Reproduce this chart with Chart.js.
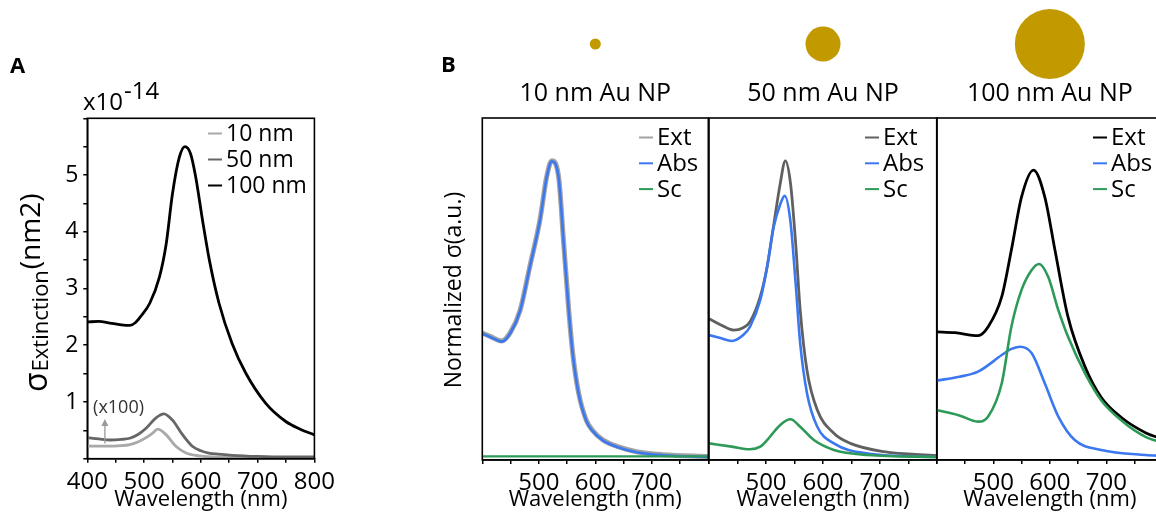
<!DOCTYPE html>
<html><head><meta charset="utf-8">
<script src="https://cdn.jsdelivr.net/npm/chart.js@4.4.1/dist/chart.umd.min.js"></script>
<style>
html,body{margin:0;padding:0;background:#fff;width:1156px;height:514px;overflow:hidden;position:relative;}
canvas{position:absolute;top:0;}
</style></head><body>
<canvas id="cA" width="340" height="514" style="left:0px"></canvas>
<canvas id="cB1" width="290" height="514" style="left:430px"></canvas>
<canvas id="cB2" width="250" height="514" style="left:700px"></canvas>
<canvas id="cB3" width="260" height="514" style="left:925px"></canvas>
<script>
// ---------- Panel A data (sigma extinction, x1e-14) ----------
const wlA10  = [400,430,460,475,490,505,515,524,539,556,574,597,620,660,700,800];
const sigA10 = [0.22,0.22,0.23,0.25,0.30,0.38,0.45,0.52,0.42,0.22,0.10,0.05,0.03,0.02,0.02,0.02];
const wlA50  = [400,420,440,460,475,490,504,521,535,550,568,585,600,614,630,655,700,750,800];
const sigA50 = [0.37,0.35,0.33,0.34,0.36,0.43,0.54,0.72,0.79,0.68,0.42,0.22,0.14,0.10,0.08,0.06,0.04,0.03,0.03];
const wlA100  = [400,420,440,460,475,485,495,510,527,539,550,562,572,582,591,603,615,632,655,679,714,749,775,800];
const sigA100 = [2.41,2.42,2.39,2.36,2.35,2.40,2.52,2.74,3.20,3.79,4.67,5.31,5.50,5.37,4.96,4.20,3.50,2.74,2.03,1.51,0.98,0.66,0.52,0.42];
const labelsA = ['10 nm','50 nm','100 nm'];
const xTicksA = [400,500,600,700,800];
const yTicksA = [1,2,3,4,5];

// ---------- Panel B data (normalized) ----------
const wlB10ext  = [400,415,434,450,467,484,502,514,523,535,544,553,560,570,584,595,614,640,673,720,800];
const nB10ext   = [0.427,0.415,0.40,0.43,0.504,0.65,0.807,0.953,1.006,0.953,0.73,0.504,0.36,0.23,0.134,0.10,0.067,0.045,0.028,0.018,0.012];
const wlB10abs  = [400,415,434,450,467,484,502,514,523,535,544,553,560,570,584,595,614,640,673,720,800];
const nB10abs   = [0.425,0.413,0.398,0.428,0.502,0.648,0.805,0.951,1.004,0.951,0.728,0.502,0.358,0.228,0.132,0.098,0.065,0.043,0.026,0.016,0.010];
const wlB10sc   = [400,500,600,700,800];
const nB10sc    = [0.012,0.012,0.012,0.012,0.012];

const wlB50ext  = [400,420,443,460,472,490,502,513,525,534,543,552,560,572,590,619,648,707,800];
const nB50ext   = [0.475,0.455,0.437,0.445,0.465,0.55,0.65,0.784,0.93,1.006,0.93,0.729,0.504,0.30,0.168,0.09,0.056,0.028,0.015];
const wlB50abs  = [400,420,440,460,472,490,502,513,525,533,543,552,560,572,590,619,678,800];
const nB50abs   = [0.42,0.41,0.40,0.42,0.448,0.538,0.65,0.78,0.86,0.888,0.80,0.594,0.392,0.224,0.112,0.056,0.022,0.01];
const wlB50sc   = [400,440,472,490,502,525,543,560,584,619,678,800];
const nB50sc    = [0.056,0.045,0.036,0.045,0.067,0.118,0.137,0.112,0.067,0.034,0.017,0.01];

const wlB100ext = [400,432,473,491,515,532,550,571,591,609,632,662,691,727,769,800];
const nB100ext  = [0.431,0.428,0.418,0.448,0.549,0.706,0.885,0.975,0.885,0.706,0.482,0.314,0.21,0.142,0.092,0.07];
const wlB100abs = [400,440,473,515,530,547,568,591,615,644,691,769,800];
const nB100abs  = [0.267,0.28,0.297,0.353,0.372,0.381,0.359,0.258,0.146,0.067,0.034,0.017,0.014];
const wlB100sc  = [400,440,473,491,515,532,550,568,581,597,615,632,662,691,727,769,800];
const nB100sc   = [0.168,0.15,0.129,0.146,0.258,0.448,0.572,0.639,0.659,0.616,0.504,0.415,0.292,0.20,0.132,0.078,0.058];

const labelsB = ['Ext','Abs','Sc'];
const titlesB = ['10 nm Au NP','50 nm Au NP','100 nm Au NP'];
const xTicksB = [500,600,700];

// ---------- helpers ----------
const FONT = "'Open Sans', sans-serif";
Chart.defaults.font.family = FONT;
Chart.defaults.color = '#000';
const pts = (xs, ys) => xs.map((x, i) => ({x, y: ys[i]}));

function line(label, xs, ys, color, width, order) {
  return {label, data: pts(xs, ys), borderColor: color, backgroundColor: color,
    borderWidth: width, pointRadius: 0, fill: false, cubicInterpolationMode: 'monotone', order};
}

const decoPlugin = {
  id: 'deco',
  afterDraw(chart, args, o) {
    const ctx = chart.ctx, a = chart.chartArea;
    ctx.save();
    ctx.strokeStyle = '#000'; ctx.lineWidth = 1.6;
    ctx.strokeRect(a.left, a.top, a.right - a.left, a.bottom - a.top);
    ctx.restore();
    ctx.save();
    ctx.translate(-(o.ox || 0), 0);
    if (o.legend) {
      const L = o.legend;
      ctx.font = L.size + 'px ' + FONT;
      ctx.textBaseline = 'middle';
      ctx.textAlign = 'left';
      chart.data.datasets.forEach((ds, i) => {
        const y = L.y + i * L.rowH;
        ctx.strokeStyle = ds.borderColor; ctx.lineWidth = 2;
        ctx.beginPath(); ctx.moveTo(L.x, y); ctx.lineTo(L.x + L.len, y); ctx.stroke();
        ctx.fillStyle = '#000'; ctx.fillText(ds.label, L.x + L.len + 4, y + 1);
      });
    }
    if (o.extra) o.extra(chart, ctx, o.ox || 0);
    ctx.restore();
  }
};
Chart.register(decoPlugin);

function xAxis(labelSet, h) {
  return {
    type: 'linear', min: 400, max: 800,
    ticks: {stepSize: 50, autoSkip: false, maxRotation: 0, padding: 5, color: '#000',
      font: {family: FONT, size: 24},
      callback: v => labelSet.includes(v) ? String(v) : ''},
    grid: {drawOnChartArea: false, drawTicks: true, tickLength: 4, color: '#000', lineWidth: 1.5},
    border: {display: true, color: '#000', width: 1.5},
    title: {display: true, text: 'Wavelength (nm)', color: '#000', font: {family: FONT, size: 22}, padding: {top: 0, bottom: 1}},
    afterFit: s => { s.height = h; }
  };
}

function baseOpts(padding, scales, deco) {
  return {
    responsive: false, animation: false, events: [],
    layout: {padding},
    scales,
    plugins: {legend: {display: false}, tooltip: {enabled: false}, deco}
  };
}

const GOLD = '#c29a00';
const BLUE = '#3b78f0';
const GREEN = '#2e9a58';

// ---------- Panel A ----------
new Chart(document.getElementById('cA'), {
  type: 'line',
  data: {datasets: [
    line(labelsA[0], wlA10, sigA10, '#a9a9a9', 2.8, 3),
    line(labelsA[1], wlA50, sigA50, '#666666', 2.8, 2),
    line(labelsA[2], wlA100, sigA100, '#000000', 2.8, 1)
  ]},
  options: baseOpts({left: 0, top: 118.3, right: 24, bottom: 0}, {
    x: xAxis(xTicksA, 55.3),
    y: {min: 0, max: 6,
      ticks: {stepSize: 0.5, autoSkip: false, padding: 5, color: '#000', font: {family: FONT, size: 23},
        callback: v => yTicksA.includes(v) ? String(v) : ''},
      grid: {drawOnChartArea: false, drawTicks: true, tickLength: 4, color: '#000', lineWidth: 1.5},
      border: {display: true, color: '#000', width: 1.5},
      afterFit: s => { s.width = 87.3; }}
  }, {
    ox: 0,
    legend: {x: 208, y: 133.5, rowH: 26, len: 14, size: 23},
    extra: (chart, ctx) => {
      ctx.fillStyle = '#000';
      ctx.textBaseline = 'alphabetic';
      ctx.textAlign = 'left';
      ctx.font = 'bold 22px ' + FONT;
      ctx.fillText('A', 10, 73);
      ctx.font = '24px ' + FONT;
      ctx.fillText('x10', 83, 110);
      const w = ctx.measureText('x10').width;
      ctx.fillText('-14', 83 + w + 1, 99);
      // y title: σ_Extinction(nm2)
      ctx.save();
      ctx.rotate(-Math.PI / 2);
      let xr = -392;
      ctx.font = '32px ' + FONT;
      ctx.fillText('σ', xr, 47);
      xr += ctx.measureText('σ').width + 1;
      ctx.font = '22px ' + FONT;
      ctx.fillText('Extinction', xr, 48);
      xr += ctx.measureText('Extinction').width + 1;
      ctx.font = '28px ' + FONT;
      ctx.fillText('(nm2)', xr, 40);
      ctx.restore();
      // (x100) note and arrow
      const sx = chart.scales.x, sy = chart.scales.y;
      const ax = sx.getPixelForValue(431);
      const y0 = sy.getPixelForValue(0.27), y1 = sy.getPixelForValue(0.7);
      ctx.strokeStyle = '#9a9a9a'; ctx.fillStyle = '#9a9a9a'; ctx.lineWidth = 1.3;
      ctx.beginPath(); ctx.moveTo(ax, y0); ctx.lineTo(ax, y1 + 4); ctx.stroke();
      ctx.beginPath(); ctx.moveTo(ax, y1); ctx.lineTo(ax - 3.5, y1 + 7); ctx.lineTo(ax + 3.5, y1 + 7); ctx.closePath(); ctx.fill();
      ctx.fillStyle = '#333';
      ctx.font = '18px ' + FONT;
      ctx.textAlign = 'center'; ctx.textBaseline = 'middle';
      ctx.fillText('(x100)', sx.getPixelForValue(455), sy.getPixelForValue(0.9));
    }
  })
});

// ---------- Panel B ----------
function panelB(id, ox, padding, sets, legendX, title, radius, extraMore) {
  return new Chart(document.getElementById(id), {
    type: 'line',
    data: {datasets: sets},
    options: baseOpts(padding, {
      x: xAxis(xTicksB, 54),
      y: {display: false, min: 0, max: 1.15}
    }, {
      ox,
      legend: {x: legendX, y: 137.5, rowH: 25.8, len: 14, size: 24},
      extra: (chart, ctx, off) => {
        const a = chart.chartArea;
        const cx = (a.left + a.right) / 2 + off;
        ctx.fillStyle = '#000';
        ctx.font = '25px ' + FONT;
        ctx.textAlign = 'center'; ctx.textBaseline = 'alphabetic';
        ctx.fillText(title, cx, 101);
        ctx.fillStyle = GOLD;
        ctx.beginPath(); ctx.arc(cx, 44, radius, 0, Math.PI * 2); ctx.fill();
        if (extraMore) extraMore(chart, ctx);
      }
    })
  });
}

panelB('cB1', 430, {left: 52.3, top: 118, right: 11.7, bottom: 0}, [
  line(labelsB[0], wlB10ext, nB10ext, '#a3a3a3', 5, 3),
  line(labelsB[1], wlB10abs, nB10abs, BLUE, 2.6, 2),
  line(labelsB[2], wlB10sc, nB10sc, GREEN, 2.2, 1)
], 639, titlesB[0], 5.5, (chart, ctx) => {
  ctx.fillStyle = '#000';
  ctx.textAlign = 'left'; ctx.textBaseline = 'alphabetic';
  ctx.font = 'bold 22px ' + FONT;
  ctx.fillText('B', 441, 72);
  ctx.save();
  ctx.translate(461, 290);
  ctx.rotate(-Math.PI / 2);
  ctx.font = '23px ' + FONT;
  ctx.textAlign = 'center';
  ctx.fillText('Normalized σ(a.u.)', 0, 0);
  ctx.restore();
});

panelB('cB2', 700, {left: 9, top: 118, right: 13, bottom: 0}, [
  line(labelsB[0], wlB50ext, nB50ext, '#606060', 2.8, 3),
  line(labelsB[1], wlB50abs, nB50abs, BLUE, 2.6, 2),
  line(labelsB[2], wlB50sc, nB50sc, GREEN, 2.6, 1)
], 865, titlesB[1], 17.5);

panelB('cB3', 925, {left: 11.7, top: 118, right: 22, bottom: 0}, [
  line(labelsB[0], wlB100ext, nB100ext, '#000000', 2.8, 3),
  line(labelsB[1], wlB100abs, nB100abs, BLUE, 2.6, 2),
  line(labelsB[2], wlB100sc, nB100sc, GREEN, 2.6, 1)
], 1093, titlesB[2], 35);
</script>
</body></html>
